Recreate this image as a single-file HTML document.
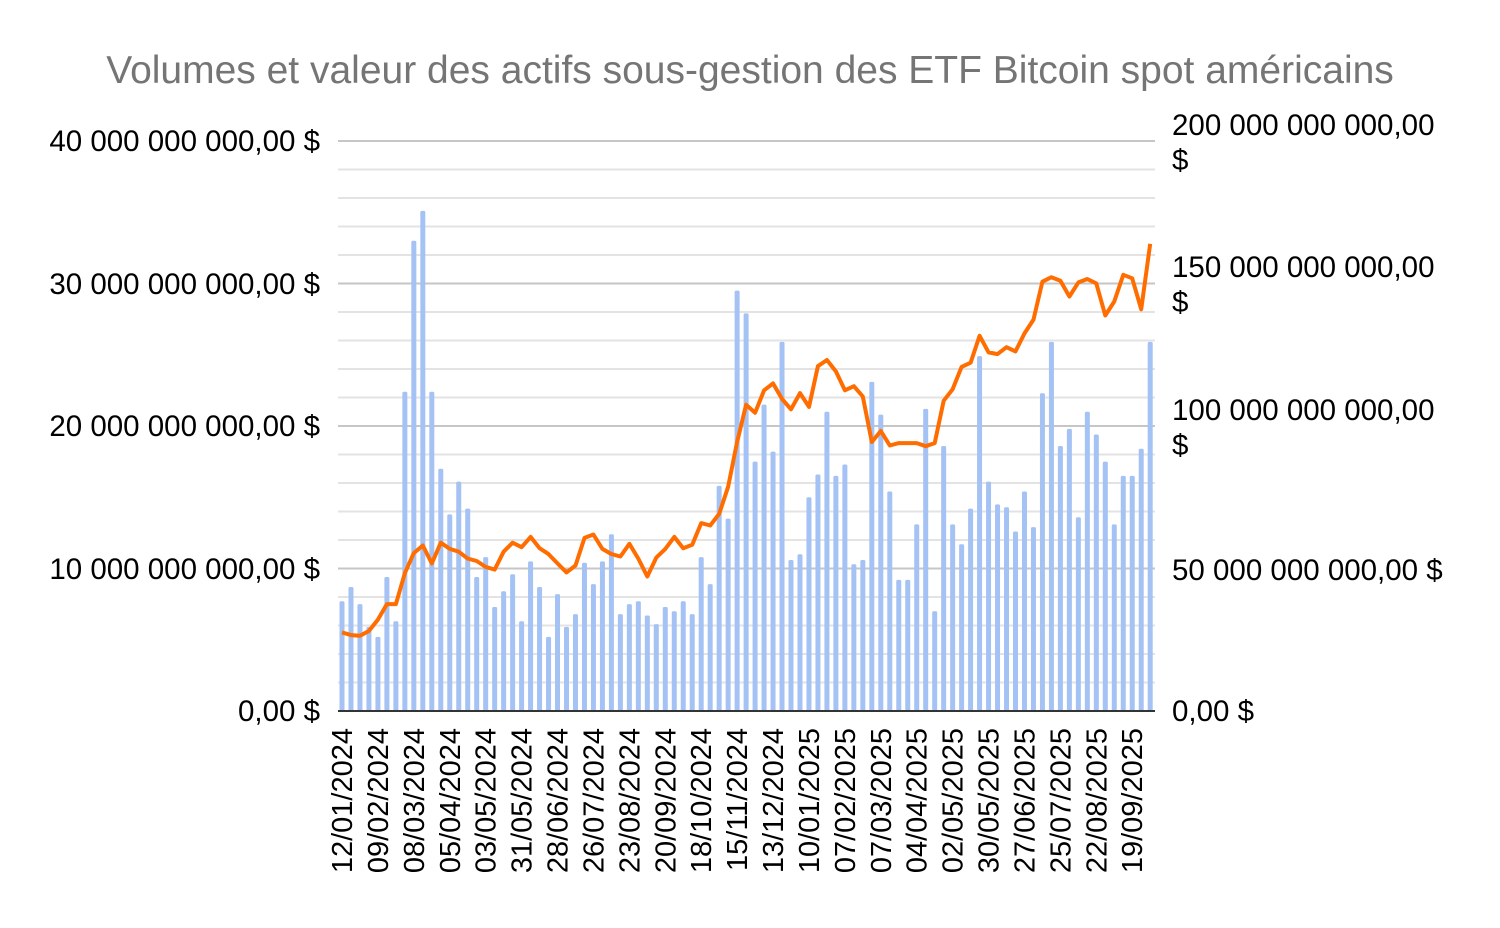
<!DOCTYPE html>
<html><head><meta charset="utf-8"><style>
html,body{margin:0;padding:0;background:#fff;}
svg{display:block;font-family:"Liberation Sans",Arial,sans-serif;}
</style></head><body>
<svg id="c" width="1500" height="928" xmlns="http://www.w3.org/2000/svg">
<text x="750" y="83" text-anchor="middle" font-size="39" fill="#757575">Volumes et valeur des actifs sous-gestion des ETF Bitcoin spot américains</text>
<g id="grid"></g>
<g id="bars" fill="#a4c2f4"></g>
<polyline id="line" fill="none" stroke="#ff6d01" stroke-width="4" stroke-linejoin="round"/>
<line x1="338" y1="711" x2="1155" y2="711" stroke="#333" stroke-width="2"/>
<g font-size="29.5" fill="#000" text-anchor="end">
<text x="320" y="151">40 000 000 000,00 $</text>
<text x="320" y="294">30 000 000 000,00 $</text>
<text x="320" y="436">20 000 000 000,00 $</text>
<text x="320" y="579">10 000 000 000,00 $</text>
<text x="320" y="721">0,00 $</text>
</g>
<g font-size="29.5" fill="#000">
<text x="1172" y="135">200 000 000 000,00</text><text x="1172" y="170">$</text>
<text x="1172" y="277">150 000 000 000,00</text><text x="1172" y="312">$</text>
<text x="1172" y="420">100 000 000 000,00</text><text x="1172" y="455">$</text>
<text x="1172" y="580">50 000 000 000,00 $</text>
<text x="1172" y="721">0,00 $</text>
</g>
<g id="xl" font-size="29" fill="#000"></g>
</svg>
<script>
var ns="http://www.w3.org/2000/svg";
function el(t,a,p){var e=document.createElementNS(ns,t);for(var k in a)e.setAttribute(k,a[k]);p.appendChild(e);return e;}
var g=document.getElementById('grid');
for(var i=1;i<=20;i++){var y=711-i*28.5;el('line',{x1:338,x2:1155,y1:y,y2:y,stroke:(i%5==0)?'#c6c6c6':'#e3e3e3','stroke-width':2},g);}
var v=[7.7,8.7,7.5,5.9,5.2,9.4,6.3,22.4,33.0,35.1,22.4,17.0,13.8,16.1,14.2,9.4,10.8,7.3,8.4,9.6,6.3,10.5,8.7,5.2,8.2,5.9,6.8,10.4,8.9,10.5,12.4,6.8,7.5,7.7,6.7,6.1,7.3,7.0,7.7,6.8,10.8,8.9,15.8,13.5,29.5,27.9,
17.5,21.5,18.2,25.9,10.6,11.0,15.0,16.6,21.0,16.5,17.3,10.3,10.6,23.1,20.8,15.4,9.2,9.2,13.1,21.2,7.0,18.6,13.1,11.7,14.2,24.9,16.1,14.5,14.3,12.6,15.4,12.9,22.3,25.9,18.6,19.8,13.6,21.0,19.4,17.5,13.1,16.5,16.5,18.4,25.9];
var L=[1312,1320,1322,1308,1275,1230,1230,1140,1082,1060,1112,1052,1070,1078,1098,1105,1122,1130,1078,1052,1065,1035,1068,1085,1112,1138,1118,1038,1028,1070,1085,1092,1055,1098,1150,1095,1070,1035,1068,1058,995,1002,968,890,760,652,
675,610,590,635,665,618,658,540,522,555,610,598,628,760,728,770,763,763,763,772,763,640,607,542,530,452,500,505,485,497,445,405,295,282,292,338,297,287,300,393,352,275,285,375,185];
var b=document.getElementById('bars'),pts=[];
for(var i=0;i<v.length;i++){var x=342+i*8.98;var h=v[i]*14.25;el('rect',{x:x-2.5,y:711-h,width:5,height:h,rx:1.5},b);}
for(var i=0;i<L.length;i++){var x=342+i*8.98;pts.push(x.toFixed(1)+','+(180+L[i]*0.3448).toFixed(1));}
document.getElementById('line').setAttribute('points',pts.join(' '));
var lab=['12/01/2024','09/02/2024','08/03/2024','05/04/2024','03/05/2024','31/05/2024','28/06/2024','26/07/2024','23/08/2024','20/09/2024','18/10/2024','15/11/2024','13/12/2024','10/01/2025','07/02/2025','07/03/2025','04/04/2025','02/05/2025','30/05/2025','27/06/2025','25/07/2025','22/08/2025','19/09/2025'];
var xl=document.getElementById('xl');
for(var k=0;k<lab.length;k++){var x=342+k*4*8.98+10;var t=el('text',{x:0,y:0,'text-anchor':'end',transform:'translate('+x+',728) rotate(-90)'},xl);t.textContent=lab[k];}
</script>
</body></html>
